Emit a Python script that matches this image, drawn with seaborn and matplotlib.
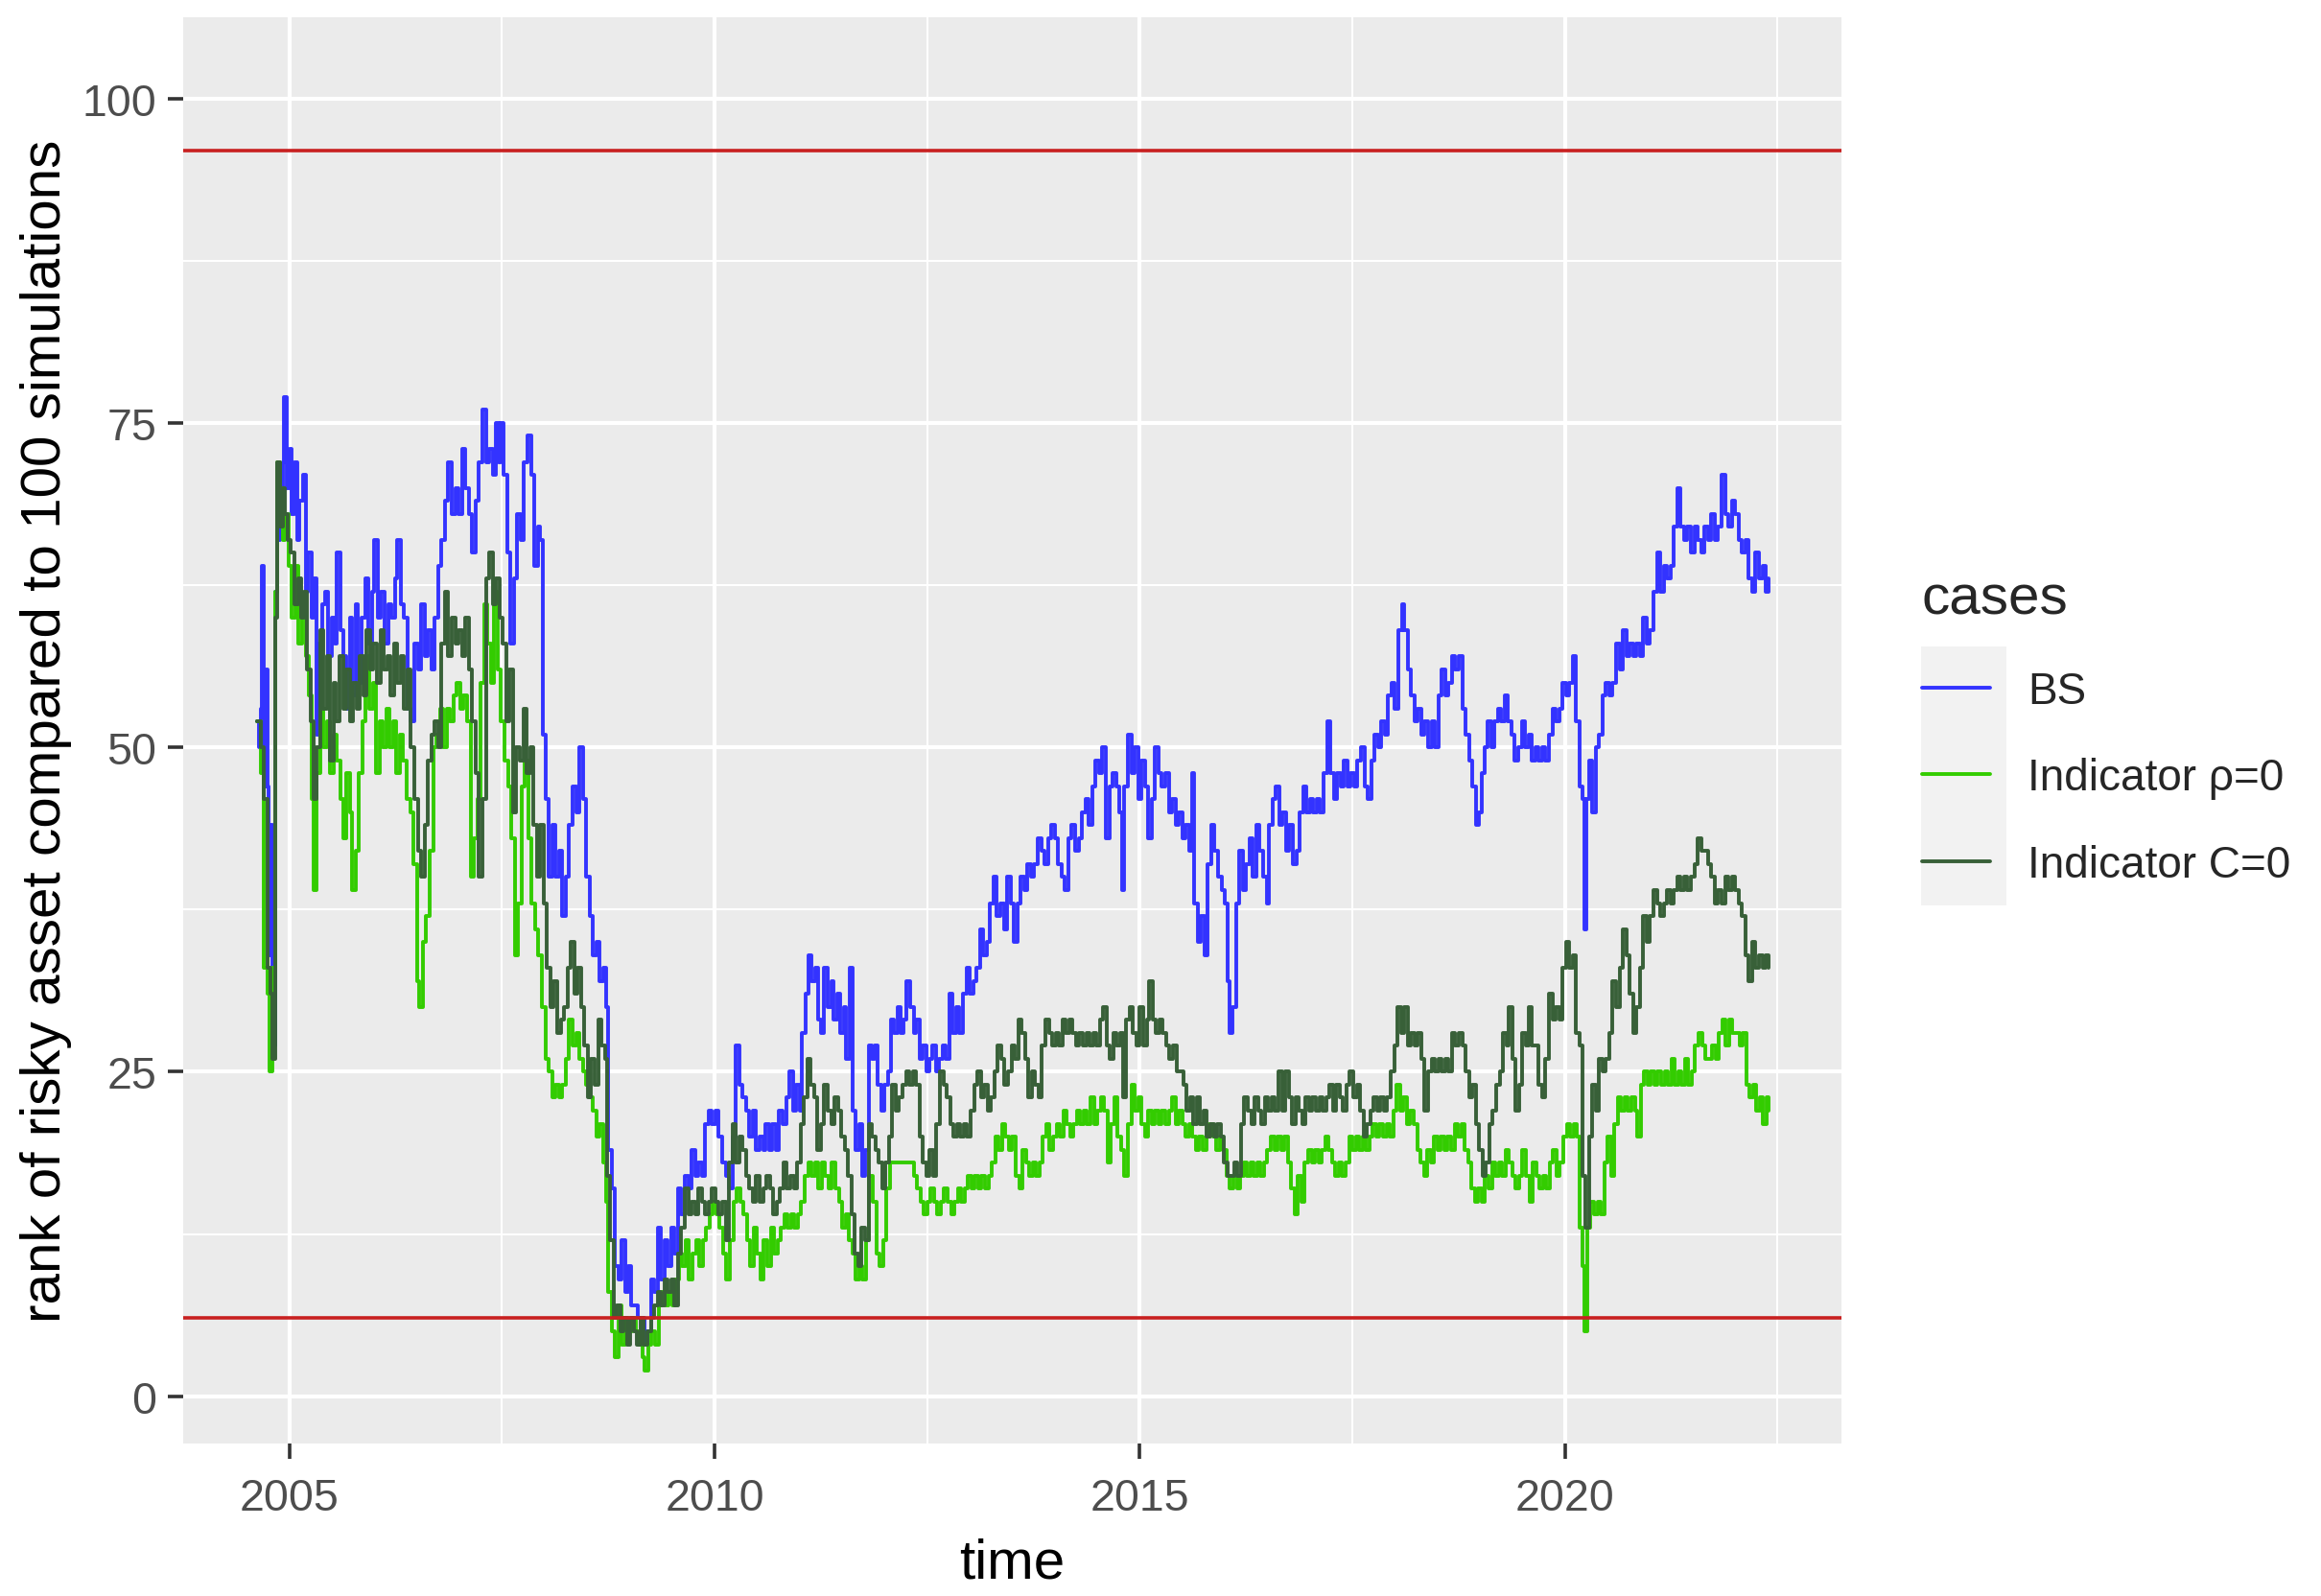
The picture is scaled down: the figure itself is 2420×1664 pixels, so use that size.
import matplotlib
matplotlib.use("Agg")
import matplotlib.pyplot as plt
import seaborn as sns
import pandas as pd
from matplotlib.patches import Rectangle
from matplotlib.lines import Line2D

# ---------------- data (decimal year, rank) ----------------
cases = ["BS", "Indicator \u03c1=0", "Indicator C=0"]
case_colors = ["#3333FF", "#33CC00", "#386038"]
hline_values = [96, 6]
x_ticks = [2005, 2010, 2015, 2020]
y_ticks = [0, 25, 50, 75, 100]

bs_points = [
    (2004.62, 52), (2004.64, 50), (2004.66, 53), (2004.68, 64), (2004.70, 47), (2004.72, 56),
    (2004.74, 47), (2004.76, 34), (2004.78, 44), (2004.80, 27), (2004.83, 62), (2004.86, 66),
    (2004.89, 68), (2004.92, 72), (2004.94, 77), (2004.97, 70), (2005.00, 73), (2005.03, 68),
    (2005.06, 72), (2005.09, 66), (2005.12, 69), (2005.16, 71), (2005.19, 62), (2005.22, 65),
    (2005.26, 60), (2005.29, 63), (2005.32, 51), (2005.35, 58), (2005.39, 61), (2005.42, 62),
    (2005.46, 57), (2005.50, 60), (2005.53, 58), (2005.56, 65), (2005.60, 59), (2005.63, 57),
    (2005.67, 53), (2005.71, 60), (2005.74, 54), (2005.78, 61), (2005.81, 55), (2005.85, 60),
    (2005.89, 63), (2005.93, 58), (2005.97, 62), (2006.00, 66), (2006.04, 60), (2006.08, 62),
    (2006.12, 58), (2006.16, 61), (2006.20, 60), (2006.24, 63), (2006.27, 66), (2006.31, 61),
    (2006.35, 60), (2006.39, 53), (2006.43, 52), (2006.47, 58), (2006.51, 56), (2006.55, 61),
    (2006.59, 57), (2006.63, 59), (2006.67, 56), (2006.71, 60), (2006.75, 64), (2006.79, 66),
    (2006.83, 69), (2006.87, 72), (2006.91, 68), (2006.95, 70), (2006.99, 68), (2007.03, 73),
    (2007.07, 70), (2007.11, 68), (2007.15, 65), (2007.19, 69), (2007.23, 72), (2007.27, 76),
    (2007.31, 72), (2007.35, 73), (2007.39, 71), (2007.43, 75), (2007.46, 72), (2007.49, 75),
    (2007.52, 71), (2007.56, 65), (2007.60, 58), (2007.64, 63), (2007.68, 68), (2007.72, 66),
    (2007.76, 72), (2007.80, 74), (2007.84, 71), (2007.88, 64), (2007.92, 67), (2007.95, 66),
    (2007.98, 51), (2008.02, 46), (2008.05, 40), (2008.09, 44), (2008.13, 40), (2008.17, 42),
    (2008.21, 37), (2008.25, 40), (2008.29, 44), (2008.33, 47), (2008.37, 45), (2008.41, 50),
    (2008.45, 46), (2008.49, 40), (2008.53, 37), (2008.57, 34), (2008.61, 35), (2008.65, 32),
    (2008.69, 33), (2008.72, 30), (2008.75, 19), (2008.79, 16), (2008.83, 10), (2008.87, 9),
    (2008.91, 12), (2008.95, 8), (2008.99, 10), (2009.02, 7), (2009.06, 7), (2009.10, 6),
    (2009.14, 6), (2009.18, 4), (2009.21, 5), (2009.25, 9), (2009.29, 8), (2009.33, 13),
    (2009.37, 9), (2009.41, 12), (2009.45, 10), (2009.49, 13), (2009.53, 11), (2009.57, 16),
    (2009.61, 14), (2009.65, 17), (2009.69, 16), (2009.73, 19), (2009.77, 17), (2009.81, 18),
    (2009.85, 17), (2009.89, 21), (2009.93, 22), (2009.97, 21), (2010.01, 22), (2010.05, 20),
    (2010.09, 18), (2010.13, 17), (2010.17, 16), (2010.21, 20), (2010.25, 27), (2010.29, 24),
    (2010.33, 23), (2010.37, 22), (2010.41, 20), (2010.45, 22), (2010.49, 19), (2010.53, 20),
    (2010.57, 19), (2010.60, 21), (2010.64, 19), (2010.68, 21), (2010.72, 19), (2010.76, 22),
    (2010.80, 21), (2010.84, 23), (2010.88, 25), (2010.92, 22), (2010.96, 24), (2011.00, 22),
    (2011.03, 28), (2011.07, 31), (2011.11, 34), (2011.14, 32), (2011.18, 33), (2011.22, 29),
    (2011.25, 28), (2011.29, 33), (2011.33, 30), (2011.37, 32), (2011.40, 29), (2011.44, 31),
    (2011.48, 28), (2011.52, 30), (2011.55, 26), (2011.59, 33), (2011.62, 22), (2011.66, 19),
    (2011.70, 21), (2011.74, 17), (2011.77, 19), (2011.81, 27), (2011.85, 26), (2011.88, 27),
    (2011.92, 24), (2011.96, 22), (2012.00, 24), (2012.04, 25), (2012.07, 29), (2012.11, 28),
    (2012.15, 30), (2012.19, 28), (2012.22, 29), (2012.26, 32), (2012.30, 30), (2012.34, 28),
    (2012.37, 29), (2012.41, 26), (2012.45, 27), (2012.49, 25), (2012.52, 26), (2012.56, 27),
    (2012.60, 25), (2012.64, 26), (2012.68, 27), (2012.72, 26), (2012.76, 31), (2012.80, 28),
    (2012.84, 30), (2012.88, 28), (2012.92, 31), (2012.96, 33), (2013.00, 31), (2013.04, 32),
    (2013.08, 33), (2013.12, 36), (2013.16, 34), (2013.20, 35), (2013.24, 38), (2013.28, 40),
    (2013.32, 37), (2013.36, 38), (2013.40, 36), (2013.44, 40), (2013.48, 38), (2013.52, 35),
    (2013.56, 38), (2013.60, 40), (2013.64, 39), (2013.68, 41), (2013.72, 40), (2013.76, 41),
    (2013.80, 43), (2013.84, 42), (2013.88, 41), (2013.92, 43), (2013.96, 44), (2014.00, 43),
    (2014.04, 41), (2014.08, 40), (2014.12, 39), (2014.16, 43), (2014.20, 44), (2014.24, 42),
    (2014.28, 43), (2014.32, 45), (2014.36, 46), (2014.40, 44), (2014.44, 47), (2014.48, 49),
    (2014.52, 48), (2014.56, 50), (2014.60, 43), (2014.64, 47), (2014.68, 48), (2014.72, 47),
    (2014.76, 45), (2014.79, 39), (2014.82, 47), (2014.86, 51), (2014.90, 48), (2014.94, 50),
    (2014.98, 46), (2015.02, 49), (2015.06, 47), (2015.10, 43), (2015.14, 46), (2015.18, 50),
    (2015.22, 48), (2015.26, 47), (2015.30, 48), (2015.34, 45), (2015.38, 46), (2015.42, 44),
    (2015.46, 45), (2015.50, 43), (2015.54, 44), (2015.58, 42), (2015.61, 48), (2015.64, 38),
    (2015.68, 35), (2015.72, 37), (2015.76, 34), (2015.80, 41), (2015.84, 44), (2015.88, 42),
    (2015.92, 40), (2015.96, 39), (2016.00, 38), (2016.03, 32), (2016.06, 28), (2016.09, 30),
    (2016.13, 38), (2016.17, 42), (2016.21, 39), (2016.25, 41), (2016.29, 43), (2016.33, 40),
    (2016.37, 44), (2016.41, 42), (2016.45, 40), (2016.49, 38), (2016.52, 44), (2016.56, 46),
    (2016.60, 47), (2016.64, 44), (2016.68, 45), (2016.72, 42), (2016.76, 44), (2016.80, 41),
    (2016.84, 42), (2016.88, 45), (2016.92, 47), (2016.96, 45), (2017.00, 46), (2017.04, 45),
    (2017.08, 46), (2017.12, 45), (2017.16, 48), (2017.20, 52), (2017.24, 48), (2017.28, 46),
    (2017.32, 48), (2017.36, 47), (2017.40, 49), (2017.44, 47), (2017.48, 48), (2017.52, 47),
    (2017.56, 49), (2017.60, 50), (2017.64, 47), (2017.68, 46), (2017.72, 49), (2017.76, 51),
    (2017.80, 50), (2017.84, 52), (2017.88, 51), (2017.92, 54), (2017.96, 55), (2018.00, 53),
    (2018.04, 59), (2018.08, 61), (2018.11, 59), (2018.15, 56), (2018.19, 54), (2018.23, 52),
    (2018.27, 53), (2018.31, 51), (2018.35, 52), (2018.39, 50), (2018.43, 52), (2018.47, 50),
    (2018.51, 54), (2018.55, 56), (2018.59, 54), (2018.63, 55), (2018.67, 57), (2018.71, 56),
    (2018.75, 57), (2018.79, 53), (2018.83, 51), (2018.87, 49), (2018.91, 47), (2018.95, 44),
    (2018.99, 45), (2019.02, 48), (2019.05, 50), (2019.09, 52), (2019.13, 50), (2019.17, 52),
    (2019.21, 53), (2019.25, 52), (2019.29, 54), (2019.33, 52), (2019.37, 51), (2019.41, 49),
    (2019.45, 50), (2019.49, 52), (2019.53, 50), (2019.57, 51), (2019.61, 49), (2019.65, 50),
    (2019.69, 49), (2019.73, 50), (2019.77, 49), (2019.81, 51), (2019.85, 53), (2019.89, 52),
    (2019.93, 53), (2019.97, 55), (2020.01, 54), (2020.05, 55), (2020.09, 57), (2020.13, 52),
    (2020.17, 47), (2020.20, 46), (2020.23, 36), (2020.25, 46), (2020.28, 49), (2020.32, 45),
    (2020.36, 50), (2020.40, 51), (2020.44, 54), (2020.48, 55), (2020.52, 54), (2020.56, 55),
    (2020.60, 58), (2020.64, 56), (2020.68, 59), (2020.72, 57), (2020.76, 58), (2020.80, 57),
    (2020.84, 58), (2020.88, 57), (2020.92, 60), (2020.96, 58), (2021.00, 59), (2021.04, 62),
    (2021.08, 65), (2021.12, 62), (2021.16, 64), (2021.20, 63), (2021.24, 64), (2021.28, 67),
    (2021.32, 70), (2021.36, 67), (2021.40, 66), (2021.44, 67), (2021.48, 65), (2021.52, 67),
    (2021.56, 66), (2021.60, 65), (2021.64, 67), (2021.68, 66), (2021.72, 68), (2021.76, 66),
    (2021.80, 67), (2021.84, 71), (2021.88, 68), (2021.92, 67), (2021.96, 69), (2022.00, 68),
    (2022.04, 66), (2022.08, 65), (2022.12, 66), (2022.16, 63), (2022.20, 62), (2022.24, 65),
    (2022.28, 63), (2022.32, 64), (2022.36, 62), (2022.39, 63),
]

rho_points = [
    (2004.62, 52), (2004.66, 48), (2004.70, 33), (2004.74, 31), (2004.77, 25), (2004.80, 33),
    (2004.83, 62), (2004.86, 72), (2004.89, 70), (2004.92, 66), (2004.95, 68), (2004.99, 64),
    (2005.03, 60), (2005.07, 64), (2005.11, 58), (2005.15, 61), (2005.19, 57), (2005.23, 54),
    (2005.26, 46), (2005.29, 39), (2005.32, 48), (2005.36, 53), (2005.40, 50), (2005.44, 52),
    (2005.48, 48), (2005.52, 51), (2005.56, 49), (2005.60, 46), (2005.63, 43), (2005.67, 48),
    (2005.71, 45), (2005.74, 39), (2005.78, 42), (2005.82, 48), (2005.86, 52), (2005.90, 57),
    (2005.94, 53), (2005.98, 55), (2006.02, 48), (2006.06, 52), (2006.10, 50), (2006.14, 53),
    (2006.18, 50), (2006.22, 52), (2006.26, 48), (2006.30, 51), (2006.34, 49), (2006.38, 46),
    (2006.42, 45), (2006.46, 41), (2006.50, 32), (2006.53, 30), (2006.57, 35), (2006.61, 37),
    (2006.65, 42), (2006.69, 50), (2006.73, 51), (2006.77, 53), (2006.81, 50), (2006.85, 53),
    (2006.89, 52), (2006.93, 54), (2006.97, 55), (2007.01, 53), (2007.05, 54), (2007.09, 52),
    (2007.13, 40), (2007.17, 43), (2007.21, 46), (2007.25, 55), (2007.29, 61), (2007.33, 58),
    (2007.37, 55), (2007.41, 62), (2007.45, 56), (2007.49, 52), (2007.53, 49), (2007.57, 47),
    (2007.61, 43), (2007.65, 34), (2007.69, 38), (2007.73, 47), (2007.77, 49), (2007.81, 43),
    (2007.85, 38), (2007.89, 36), (2007.93, 34), (2007.97, 30), (2008.01, 26), (2008.05, 25),
    (2008.09, 23), (2008.13, 24), (2008.17, 23), (2008.21, 24), (2008.25, 26), (2008.29, 29),
    (2008.33, 27), (2008.37, 28), (2008.41, 26), (2008.45, 25), (2008.49, 24), (2008.53, 23),
    (2008.57, 22), (2008.61, 20), (2008.65, 21), (2008.69, 18), (2008.72, 15), (2008.75, 8),
    (2008.79, 5), (2008.83, 3), (2008.87, 7), (2008.91, 4), (2008.95, 6), (2008.99, 5),
    (2009.03, 6), (2009.07, 5), (2009.11, 4), (2009.15, 3), (2009.18, 2), (2009.22, 4),
    (2009.26, 5), (2009.30, 4), (2009.34, 7), (2009.38, 8), (2009.42, 7), (2009.46, 8),
    (2009.50, 7), (2009.54, 9), (2009.58, 11), (2009.62, 10), (2009.66, 12), (2009.70, 9),
    (2009.74, 11), (2009.78, 12), (2009.82, 10), (2009.86, 12), (2009.90, 13), (2009.94, 14),
    (2009.98, 15), (2010.02, 14), (2010.06, 13), (2010.10, 11), (2010.14, 9), (2010.18, 12),
    (2010.22, 15), (2010.26, 16), (2010.30, 15), (2010.34, 14), (2010.38, 12), (2010.42, 10),
    (2010.46, 13), (2010.50, 11), (2010.54, 9), (2010.58, 12), (2010.62, 10), (2010.66, 13),
    (2010.70, 11), (2010.74, 12), (2010.78, 13), (2010.82, 14), (2010.86, 13), (2010.90, 14),
    (2010.94, 13), (2010.98, 14), (2011.02, 15), (2011.06, 17), (2011.10, 18), (2011.14, 17),
    (2011.18, 18), (2011.22, 16), (2011.26, 18), (2011.30, 17), (2011.34, 16), (2011.38, 18),
    (2011.42, 16), (2011.46, 15), (2011.50, 13), (2011.54, 14), (2011.58, 12), (2011.62, 11),
    (2011.66, 9), (2011.70, 10), (2011.74, 9), (2011.78, 12), (2011.82, 17), (2011.86, 15),
    (2011.90, 11), (2011.94, 10), (2011.98, 12), (2012.02, 16), (2012.06, 18), (2012.10, 18),
    (2012.14, 18), (2012.18, 18), (2012.22, 18), (2012.26, 18), (2012.30, 18), (2012.34, 17),
    (2012.38, 16), (2012.42, 15), (2012.46, 14), (2012.50, 15), (2012.54, 16), (2012.58, 15),
    (2012.62, 14), (2012.66, 15), (2012.70, 16), (2012.74, 15), (2012.78, 14), (2012.82, 15),
    (2012.86, 16), (2012.90, 15), (2012.94, 16), (2012.98, 17), (2013.02, 16), (2013.06, 17),
    (2013.10, 16), (2013.14, 17), (2013.18, 16), (2013.22, 17), (2013.26, 18), (2013.30, 20),
    (2013.34, 19), (2013.38, 21), (2013.42, 20), (2013.46, 19), (2013.50, 20), (2013.54, 17),
    (2013.58, 16), (2013.62, 19), (2013.66, 18), (2013.70, 17), (2013.74, 18), (2013.78, 17),
    (2013.82, 18), (2013.86, 20), (2013.90, 21), (2013.94, 19), (2013.98, 20), (2014.02, 21),
    (2014.06, 20), (2014.10, 22), (2014.14, 21), (2014.18, 20), (2014.22, 21), (2014.26, 22),
    (2014.30, 21), (2014.34, 22), (2014.38, 21), (2014.42, 23), (2014.46, 21), (2014.50, 22),
    (2014.54, 23), (2014.58, 22), (2014.62, 18), (2014.66, 21), (2014.70, 23), (2014.74, 20),
    (2014.78, 19), (2014.82, 17), (2014.86, 21), (2014.90, 24), (2014.94, 22), (2014.98, 23),
    (2015.02, 21), (2015.06, 20), (2015.10, 22), (2015.14, 21), (2015.18, 22), (2015.22, 21),
    (2015.26, 22), (2015.30, 21), (2015.34, 22), (2015.38, 23), (2015.42, 21), (2015.46, 22),
    (2015.50, 21), (2015.54, 20), (2015.58, 21), (2015.62, 20), (2015.66, 19), (2015.70, 20),
    (2015.74, 19), (2015.78, 20), (2015.82, 21), (2015.86, 20), (2015.90, 19), (2015.94, 20),
    (2015.98, 19), (2016.02, 17), (2016.06, 16), (2016.10, 17), (2016.14, 16), (2016.18, 17),
    (2016.22, 18), (2016.26, 17), (2016.30, 18), (2016.34, 17), (2016.38, 18), (2016.42, 17),
    (2016.46, 18), (2016.50, 19), (2016.54, 20), (2016.58, 19), (2016.62, 20), (2016.66, 19),
    (2016.70, 20), (2016.74, 18), (2016.78, 16), (2016.82, 14), (2016.86, 17), (2016.90, 15),
    (2016.94, 18), (2016.98, 19), (2017.02, 18), (2017.06, 19), (2017.10, 18), (2017.14, 19),
    (2017.18, 20), (2017.22, 19), (2017.26, 18), (2017.30, 17), (2017.34, 18), (2017.38, 17),
    (2017.42, 18), (2017.46, 20), (2017.50, 19), (2017.54, 20), (2017.58, 19), (2017.62, 20),
    (2017.66, 19), (2017.70, 20), (2017.74, 21), (2017.78, 20), (2017.82, 21), (2017.86, 20),
    (2017.90, 21), (2017.94, 20), (2017.98, 22), (2018.02, 24), (2018.06, 22), (2018.10, 23),
    (2018.14, 21), (2018.18, 22), (2018.22, 21), (2018.26, 19), (2018.30, 18), (2018.34, 17),
    (2018.38, 19), (2018.42, 18), (2018.46, 20), (2018.50, 19), (2018.54, 20), (2018.58, 19),
    (2018.62, 20), (2018.66, 19), (2018.70, 21), (2018.74, 20), (2018.78, 21), (2018.82, 19),
    (2018.86, 18), (2018.90, 16), (2018.94, 15), (2018.98, 16), (2019.02, 15), (2019.06, 17),
    (2019.10, 16), (2019.14, 18), (2019.18, 17), (2019.22, 18), (2019.26, 17), (2019.30, 19),
    (2019.34, 18), (2019.38, 17), (2019.42, 16), (2019.46, 17), (2019.50, 19), (2019.54, 17),
    (2019.58, 15), (2019.62, 18), (2019.66, 17), (2019.70, 16), (2019.74, 17), (2019.78, 16),
    (2019.82, 18), (2019.86, 19), (2019.90, 17), (2019.94, 18), (2019.98, 20), (2020.02, 21),
    (2020.06, 20), (2020.10, 21), (2020.14, 20), (2020.17, 13), (2020.20, 10), (2020.23, 5),
    (2020.26, 13), (2020.30, 15), (2020.34, 14), (2020.38, 15), (2020.42, 14), (2020.46, 18),
    (2020.50, 20), (2020.54, 17), (2020.58, 21), (2020.62, 23), (2020.66, 22), (2020.70, 23),
    (2020.74, 22), (2020.78, 23), (2020.82, 22), (2020.85, 20), (2020.89, 24), (2020.93, 25),
    (2020.97, 24), (2021.01, 25), (2021.05, 24), (2021.09, 25), (2021.13, 24), (2021.17, 25),
    (2021.21, 24), (2021.25, 26), (2021.29, 24), (2021.33, 25), (2021.37, 24), (2021.41, 26),
    (2021.45, 24), (2021.49, 25), (2021.53, 27), (2021.57, 28), (2021.61, 27), (2021.65, 26),
    (2021.69, 26), (2021.73, 27), (2021.77, 26), (2021.81, 28), (2021.85, 29), (2021.89, 27),
    (2021.93, 29), (2021.97, 28), (2022.01, 28), (2022.05, 27), (2022.09, 28), (2022.13, 24),
    (2022.17, 23), (2022.21, 24), (2022.25, 22), (2022.29, 23), (2022.33, 21), (2022.37, 23),
    (2022.39, 22),
]

c0_points = [
    (2004.62, 52), (2004.66, 50), (2004.70, 46), (2004.74, 33), (2004.78, 31), (2004.80, 26),
    (2004.83, 60), (2004.86, 72), (2004.89, 67), (2004.92, 70), (2004.95, 68), (2004.98, 66),
    (2005.02, 65), (2005.06, 61), (2005.10, 63), (2005.14, 60), (2005.17, 62), (2005.21, 56),
    (2005.25, 52), (2005.29, 46), (2005.32, 50), (2005.36, 59), (2005.40, 53), (2005.44, 57),
    (2005.48, 49), (2005.52, 55), (2005.55, 52), (2005.59, 57), (2005.63, 53), (2005.67, 56),
    (2005.71, 52), (2005.75, 55), (2005.79, 53), (2005.83, 57), (2005.87, 54), (2005.91, 59),
    (2005.95, 56), (2005.99, 58), (2006.03, 55), (2006.07, 59), (2006.11, 56), (2006.15, 57),
    (2006.19, 54), (2006.23, 58), (2006.27, 55), (2006.31, 57), (2006.35, 53), (2006.39, 56),
    (2006.43, 50), (2006.47, 46), (2006.51, 42), (2006.55, 40), (2006.59, 44), (2006.63, 49),
    (2006.67, 51), (2006.71, 52), (2006.75, 50), (2006.79, 58), (2006.83, 62), (2006.87, 57),
    (2006.91, 60), (2006.95, 58), (2006.99, 59), (2007.03, 57), (2007.07, 60), (2007.11, 56),
    (2007.15, 52), (2007.19, 48), (2007.23, 40), (2007.27, 46), (2007.31, 63), (2007.35, 65),
    (2007.39, 61), (2007.43, 63), (2007.47, 60), (2007.51, 58), (2007.55, 52), (2007.59, 56),
    (2007.63, 45), (2007.67, 50), (2007.71, 49), (2007.75, 53), (2007.79, 48), (2007.83, 50),
    (2007.87, 44), (2007.91, 40), (2007.95, 44), (2007.99, 38), (2008.03, 33), (2008.07, 30),
    (2008.11, 32), (2008.15, 28), (2008.19, 29), (2008.23, 30), (2008.27, 33), (2008.31, 35),
    (2008.35, 31), (2008.39, 33), (2008.43, 30), (2008.47, 27), (2008.51, 23), (2008.55, 26),
    (2008.59, 24), (2008.63, 29), (2008.67, 27), (2008.71, 26), (2008.74, 17), (2008.77, 12),
    (2008.81, 6), (2008.85, 7), (2008.89, 5), (2008.93, 6), (2008.97, 4), (2009.01, 6),
    (2009.05, 5), (2009.09, 4), (2009.13, 6), (2009.17, 4), (2009.21, 5), (2009.25, 6),
    (2009.29, 7), (2009.33, 8), (2009.37, 7), (2009.41, 9), (2009.45, 8), (2009.49, 9),
    (2009.53, 7), (2009.57, 11), (2009.61, 13), (2009.65, 16), (2009.69, 14), (2009.73, 15),
    (2009.77, 14), (2009.81, 16), (2009.85, 15), (2009.89, 14), (2009.93, 15), (2009.97, 16),
    (2010.01, 15), (2010.05, 14), (2010.09, 15), (2010.13, 12), (2010.17, 18), (2010.21, 21),
    (2010.25, 18), (2010.29, 20), (2010.33, 19), (2010.37, 17), (2010.41, 16), (2010.45, 15),
    (2010.49, 17), (2010.53, 15), (2010.57, 16), (2010.61, 17), (2010.65, 16), (2010.69, 14),
    (2010.73, 15), (2010.77, 16), (2010.81, 18), (2010.85, 16), (2010.89, 17), (2010.93, 16),
    (2010.97, 18), (2011.01, 21), (2011.05, 23), (2011.09, 26), (2011.13, 24), (2011.17, 23),
    (2011.21, 19), (2011.25, 21), (2011.29, 24), (2011.33, 22), (2011.37, 21), (2011.41, 23),
    (2011.45, 22), (2011.49, 20), (2011.53, 19), (2011.57, 17), (2011.61, 14), (2011.65, 11),
    (2011.69, 10), (2011.73, 13), (2011.77, 12), (2011.81, 21), (2011.85, 20), (2011.89, 19),
    (2011.93, 18), (2011.97, 16), (2012.01, 18), (2012.05, 20), (2012.09, 24), (2012.13, 22),
    (2012.17, 23), (2012.21, 24), (2012.25, 25), (2012.29, 24), (2012.33, 25), (2012.37, 24),
    (2012.41, 20), (2012.45, 18), (2012.49, 17), (2012.53, 19), (2012.57, 17), (2012.61, 21),
    (2012.65, 25), (2012.69, 24), (2012.73, 23), (2012.77, 21), (2012.81, 20), (2012.85, 21),
    (2012.89, 20), (2012.93, 21), (2012.97, 20), (2013.01, 22), (2013.05, 24), (2013.09, 25),
    (2013.13, 23), (2013.17, 24), (2013.21, 22), (2013.25, 23), (2013.29, 25), (2013.33, 27),
    (2013.37, 26), (2013.41, 24), (2013.45, 25), (2013.49, 27), (2013.53, 26), (2013.57, 29),
    (2013.61, 28), (2013.65, 26), (2013.69, 23), (2013.73, 25), (2013.77, 24), (2013.81, 23),
    (2013.85, 27), (2013.89, 29), (2013.93, 28), (2013.97, 27), (2014.01, 28), (2014.05, 27),
    (2014.09, 29), (2014.13, 28), (2014.17, 29), (2014.21, 28), (2014.25, 27), (2014.29, 28),
    (2014.33, 27), (2014.37, 28), (2014.41, 27), (2014.45, 28), (2014.49, 27), (2014.53, 29),
    (2014.57, 30), (2014.61, 27), (2014.65, 26), (2014.69, 28), (2014.73, 27), (2014.77, 28),
    (2014.80, 23), (2014.84, 29), (2014.88, 30), (2014.92, 28), (2014.96, 27), (2015.00, 30),
    (2015.04, 27), (2015.08, 29), (2015.11, 32), (2015.15, 29), (2015.19, 28), (2015.23, 29),
    (2015.27, 28), (2015.31, 27), (2015.35, 26), (2015.39, 27), (2015.43, 25), (2015.47, 25),
    (2015.51, 24), (2015.55, 22), (2015.59, 23), (2015.63, 21), (2015.67, 23), (2015.71, 21),
    (2015.75, 22), (2015.79, 20), (2015.83, 21), (2015.87, 20), (2015.91, 21), (2015.95, 20),
    (2015.99, 18), (2016.03, 17), (2016.07, 17), (2016.11, 18), (2016.15, 17), (2016.19, 21),
    (2016.23, 23), (2016.27, 22), (2016.31, 21), (2016.35, 23), (2016.39, 22), (2016.43, 21),
    (2016.47, 23), (2016.51, 22), (2016.55, 23), (2016.59, 22), (2016.63, 25), (2016.67, 22),
    (2016.71, 25), (2016.75, 23), (2016.79, 21), (2016.83, 23), (2016.87, 22), (2016.91, 21),
    (2016.95, 23), (2016.99, 22), (2017.03, 23), (2017.07, 22), (2017.11, 23), (2017.15, 22),
    (2017.19, 23), (2017.23, 24), (2017.27, 22), (2017.31, 24), (2017.35, 23), (2017.39, 22),
    (2017.43, 24), (2017.47, 25), (2017.51, 23), (2017.55, 24), (2017.59, 22), (2017.63, 20),
    (2017.67, 21), (2017.71, 22), (2017.75, 23), (2017.79, 22), (2017.83, 23), (2017.87, 22),
    (2017.91, 23), (2017.95, 25), (2017.99, 27), (2018.03, 30), (2018.07, 28), (2018.11, 30),
    (2018.15, 27), (2018.19, 28), (2018.23, 27), (2018.27, 28), (2018.31, 26), (2018.35, 22),
    (2018.39, 25), (2018.43, 26), (2018.47, 25), (2018.51, 26), (2018.55, 25), (2018.59, 26),
    (2018.63, 25), (2018.67, 28), (2018.71, 27), (2018.75, 28), (2018.79, 27), (2018.83, 25),
    (2018.87, 23), (2018.91, 24), (2018.95, 21), (2018.99, 19), (2019.03, 17), (2019.07, 18),
    (2019.11, 21), (2019.15, 22), (2019.19, 24), (2019.23, 25), (2019.27, 28), (2019.31, 27),
    (2019.34, 30), (2019.38, 26), (2019.42, 22), (2019.46, 24), (2019.50, 28), (2019.54, 27),
    (2019.57, 30), (2019.61, 27), (2019.65, 27), (2019.69, 24), (2019.73, 23), (2019.77, 26),
    (2019.81, 31), (2019.85, 29), (2019.89, 30), (2019.93, 29), (2019.97, 33), (2020.01, 35),
    (2020.05, 33), (2020.09, 34), (2020.13, 28), (2020.17, 27), (2020.21, 17), (2020.24, 13),
    (2020.28, 20), (2020.32, 24), (2020.36, 22), (2020.40, 26), (2020.44, 25), (2020.48, 26),
    (2020.52, 28), (2020.56, 32), (2020.60, 30), (2020.64, 33), (2020.68, 36), (2020.72, 34),
    (2020.76, 31), (2020.80, 28), (2020.84, 30), (2020.88, 33), (2020.92, 37), (2020.96, 35),
    (2021.00, 37), (2021.04, 39), (2021.08, 38), (2021.12, 37), (2021.16, 38), (2021.20, 39),
    (2021.24, 38), (2021.28, 39), (2021.32, 40), (2021.36, 39), (2021.40, 40), (2021.44, 39),
    (2021.48, 40), (2021.52, 41), (2021.56, 43), (2021.60, 42), (2021.64, 42), (2021.68, 41),
    (2021.72, 40), (2021.76, 38), (2021.80, 39), (2021.84, 38), (2021.88, 40), (2021.92, 39),
    (2021.96, 40), (2022.00, 39), (2022.04, 38), (2022.08, 37), (2022.12, 34), (2022.16, 32),
    (2022.20, 35), (2022.24, 33), (2022.28, 34), (2022.32, 33), (2022.36, 34), (2022.39, 33),
]

# ---------------- build long table ----------------
frames = []
for name, pts in zip(cases, [bs_points, rho_points, c0_points]):
    t, v = zip(*pts)
    frames.append(pd.DataFrame({"time": t, "rank": v, "cases": name}))
df = pd.concat(frames, ignore_index=True)

# ---------------- styling ----------------
sns.set_theme(style="darkgrid")
plt.rcParams["font.family"] = ["Liberation Sans", "DejaVu Sans"]

W, H = 2420, 1665
fig = plt.figure(figsize=(W / 100, H / 100), dpi=100)
fig.patch.set_facecolor("white")
ax = fig.add_axes([191 / W, 1 - 1506 / H, (1920 - 191) / W, (1506 - 18.5) / H])
ax.set_facecolor("#EBEBEB")

palette = dict(zip(cases, case_colors))
sns.lineplot(data=df, x="time", y="rank", hue="cases", hue_order=cases,
             palette=palette, estimator=None, sort=False, lw=2.8,
             drawstyle="steps-post", legend=False, ax=ax)

for hv in hline_values:
    ax.axhline(hv, color="#C82020", lw=2.6, zorder=5)

ax.set_xlim(2003.752, 2023.25)
ax.set_ylim(-3.65, 106.3)
ax.set_xticks(x_ticks)
ax.set_xticklabels([str(v) for v in x_ticks])
ax.set_xticks([2007.5, 2012.5, 2017.5, 2022.5], minor=True)
ax.set_yticks(y_ticks)
ax.set_yticklabels([str(v) for v in y_ticks])
ax.set_yticks([12.5, 37.5, 62.5, 87.5], minor=True)

ax.set_axisbelow(True)
ax.grid(which="major", color="white", lw=3.0)
ax.grid(which="minor", color="white", lw=1.5)
for s in ax.spines.values():
    s.set_visible(False)
ax.tick_params(which="major", length=11.5, width=2.6, color="#333333",
               labelsize=33.5, labelcolor="#4D4D4D", bottom=True, left=True)
ax.tick_params(axis="x", which="major", pad=14)
ax.tick_params(axis="y", which="major", pad=8.6)
ax.tick_params(which="minor", length=0)

ax.set_xlabel("time", fontsize=42, color="black")
ax.set_ylabel("rank of risky asset compared to 100 simulations", fontsize=42, color="black")
ax.xaxis.set_label_coords(0.5, -0.0655)
ax.yaxis.set_label_coords(-0.067, 0.5)

# legend
fig.add_artist(Rectangle((2003 / W, 1 - 945 / H), 89 / W, 270 / H,
                         transform=fig.transFigure, facecolor="#F2F2F2",
                         edgecolor="none", zorder=0))
handles = [Line2D([], [], color=c, lw=2.8) for c in case_colors]
leg = fig.legend(handles, cases, title="cases", loc="upper left",
                 bbox_to_anchor=(2004 / W, 1 - 599 / H), frameon=False,
                 fontsize=33, title_fontsize=42, handlelength=1.55,
                 handletextpad=0.85, labelspacing=1.02, borderpad=0,
                 borderaxespad=0, alignment="left")

fig.savefig("out.png", dpi=100, facecolor="white")
